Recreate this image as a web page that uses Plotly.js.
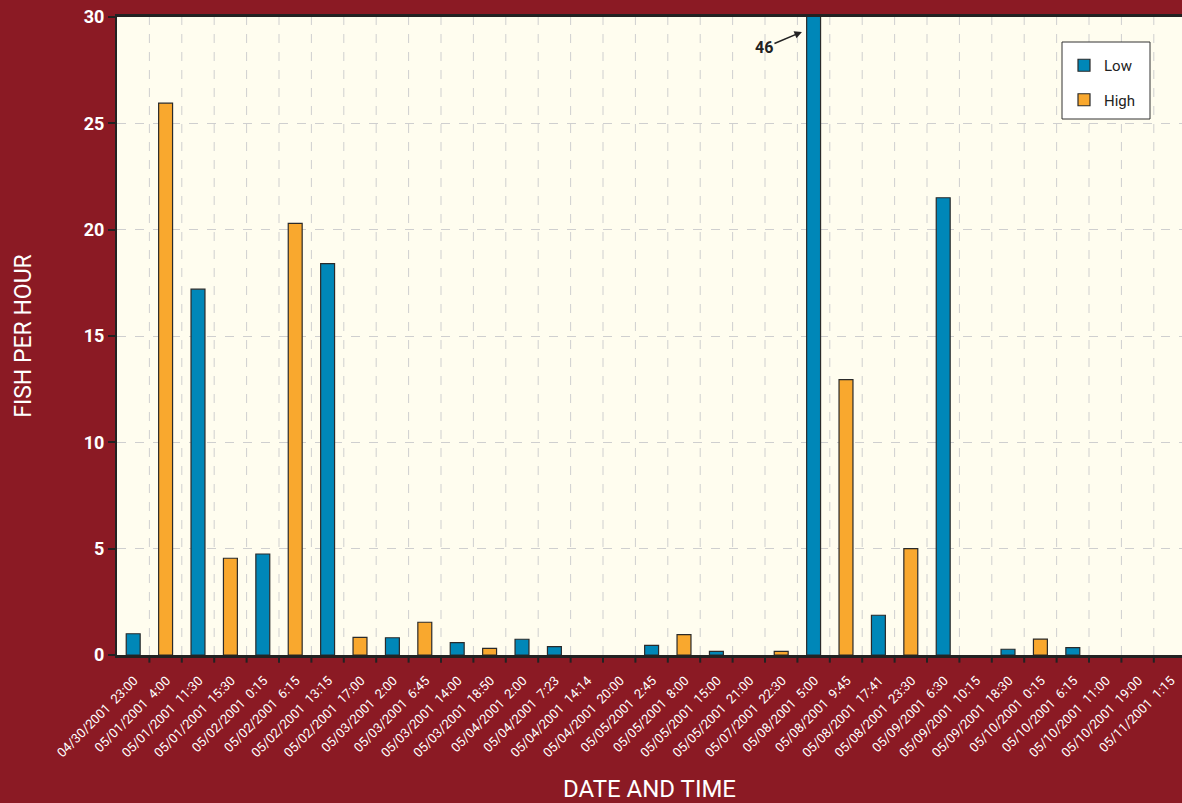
<!DOCTYPE html>
<html>
<head>
<meta charset="utf-8">
<script src="https://cdn.plot.ly/plotly-3.0.1.min.js"></script>
<style>
html,body{margin:0;padding:0;background:#8B1A24;}
#chart{width:1182px;height:803px;}
</style>
</head>
<body>
<div id="chart"></div>
<script>
// Category dates and times
const dates = ["04/30/2001","05/01/2001","05/01/2001","05/01/2001","05/02/2001","05/02/2001","05/02/2001","05/02/2001",
  "05/03/2001","05/03/2001","05/03/2001","05/03/2001","05/04/2001","05/04/2001","05/04/2001","05/04/2001",
  "05/05/2001","05/05/2001","05/05/2001","05/05/2001","05/07/2001","05/08/2001","05/08/2001","05/08/2001",
  "05/08/2001","05/09/2001","05/09/2001","05/09/2001","05/10/2001","05/10/2001","05/10/2001","05/10/2001","05/11/2001"];
const times = ["23:00","4:00","11:30","15:30","0:15","6:15","13:15","17:00",
  "2:00","6:45","14:00","18:50","2:00","7:23","14:14","20:00",
  "2:45","8:00","15:00","21:00","22:30","5:00","9:45","17:41",
  "23:30","6:30","10:15","18:30","0:15","6:15","11:00","19:00","1:15"];
const categories = dates.map((d,i) => d + "\u00a0 " + times[i]);

// Fish per hour, Low and High (null where no bar)
const lowValues = [1.0,null,17.2,null,4.75,null,18.4,null,
  0.81,null,0.58,null,0.74,0.39,null,null,
  0.45,null,0.17,null,null,46,null,1.87,
  null,21.5,null,0.27,null,0.35,null,null,null];
const highValues = [null,25.95,null,4.55,null,20.3,null,0.83,
  null,1.54,null,0.31,null,null,null,null,
  null,0.96,null,null,0.17,null,12.95,null,
  5.0,null,null,null,0.75,null,null,null,null];

const yTicks = [0,5,10,15,20,25,30];
const annotText = "46";

const FAM = 'Roboto, "Liberation Sans", sans-serif';
const F = (size, color, extra) => Object.assign({family:FAM, size:size, color:color}, extra||{});
const idx = categories.map((c,i)=>i);

const traces = [
  {type:'bar', name:'Low', x:idx, y:lowValues, width:0.43, legendgroup:'a',
   marker:{color:'#0087B8', line:{color:'#2a2a2a', width:1.2}}},
  {type:'bar', name:'High', x:idx, y:highValues, width:0.43, legendgroup:'b',
   marker:{color:'#F9A82E', line:{color:'#2a2a2a', width:1.2}}}
];

const layout = {
  width:1182, height:803,
  font:F(13,'#FFFFFF'),
  paper_bgcolor:'#8B1A24', plot_bgcolor:'#FFFDEF',
  margin:{l:117, r:0, t:17, b:148},
  barmode:'overlay',
  showlegend:true,
  legend:{x:(1064-117)/1065, y:(655-49)/638, xanchor:'left', yanchor:'top',
    bgcolor:'rgba(0,0,0,0)', borderwidth:0,
    font:F(15,'#222'),
    traceorder:'grouped', tracegroupgap:12, itemwidth:30},
  xaxis:{
    type:'linear', range:[-0.5, 32.37],
    tickmode:'array', tickvals:idx, ticktext:categories,
    tickangle:-45, showgrid:false,
    tickfont:F(13,'#FFFFFF'),
    ticklabelstandoff:10, ticklabelshift:1, ticklabeloverflow:'allow',
    showline:true, linecolor:'#222', linewidth:3, mirror:true,
    ticks:'', zeroline:false,
    title:{text:'DATE AND TIME', font:F(24,'#FFFFFF'), standoff:22}
  },
  yaxis:{
    range:[0,30], tickmode:'array', tickvals:yTicks,
    showgrid:true, gridcolor:'#CFCFCF', griddash:'dash', gridwidth:1,
    ticks:'outside', ticklen:7, tickcolor:'#222', tickwidth:2,
    tickfont:F(18,'#FFFFFF',{weight:'bold'}),
    showline:true, linecolor:'#222', linewidth:2, zeroline:false,
    title:{text:'FISH PER HOUR', font:F(23,'#FFFFFF'), standoff:46}
  },
  shapes: [
    {type:'rect', xref:'paper', yref:'paper',
     x0:(1062-117)/1065, x1:(1150-117)/1065, y0:(655-119)/638, y1:(655-42)/638,
     fillcolor:'#FFFFFF', line:{color:'#333', width:1}, layer:'above'}
  ],
  annotations:[
    {x:20.64, y:29.3, xref:'x', yref:'y', text:annotText, showarrow:true,
     arrowhead:2, arrowsize:1, arrowwidth:1.5, arrowcolor:'#222',
     ax:-38, ay:16, font:F(16,'#222',{weight:'bold'})}
  ]
};

// vertical dashed gridlines at category boundaries
for (let i=0;i<categories.length;i++){
  const b = i+0.5;
  layout.shapes.push({type:'line', xref:'x', yref:'paper', x0:b, x1:b, y0:0, y1:1,
    line:{color:'#CFCFCF', width:1, dash:'dash'}, layer:'below'});
  layout.shapes.push({type:'line', xref:'x', yref:'paper', x0:b, x1:b, y0:0, y1:-0.012,
    line:{color:'#222', width:2}});
}

Plotly.newPlot('chart', traces, layout, {displayModeBar:false, staticPlot:true});
</script>
</body>
</html>
